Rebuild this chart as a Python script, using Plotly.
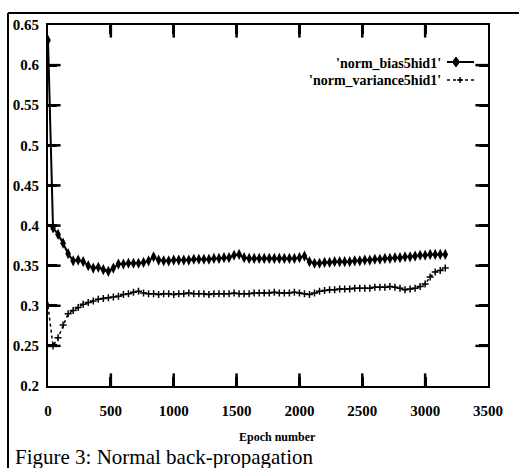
import plotly.graph_objects as go

epochs = [0, 40, 80, 120, 160, 200, 240, 280, 320, 360, 400, 440, 480, 520, 560, 600,
          640, 680, 720, 760, 800, 840, 880, 920, 960, 1000, 1040, 1080, 1120, 1160, 1200,
          1240, 1280, 1320, 1360, 1400, 1440, 1480, 1520, 1560, 1600, 1640, 1680, 1720,
          1760, 1800, 1840, 1880, 1920, 1960, 2000, 2040, 2080, 2120, 2160, 2200, 2240,
          2280, 2320, 2360, 2400, 2440, 2480, 2520, 2560, 2600, 2640, 2680, 2720, 2760,
          2800, 2840, 2880, 2920, 2960, 3000, 3040, 3080, 3120, 3160]

norm_bias = [0.631, 0.397, 0.389, 0.378, 0.365, 0.356, 0.357, 0.355, 0.350, 0.347,
             0.348, 0.345, 0.343, 0.347, 0.352, 0.352, 0.353, 0.353, 0.353, 0.354,
             0.356, 0.361, 0.357, 0.356, 0.356, 0.357, 0.357, 0.357, 0.357, 0.358,
             0.358, 0.358, 0.358, 0.359, 0.359, 0.360, 0.360, 0.363, 0.364, 0.360,
             0.359, 0.359, 0.359, 0.359, 0.359, 0.359, 0.359, 0.359, 0.359, 0.359,
             0.360, 0.362, 0.355, 0.353, 0.353, 0.354, 0.354, 0.355, 0.355, 0.355,
             0.355, 0.356, 0.356, 0.357, 0.357, 0.358, 0.358, 0.359, 0.359, 0.360,
             0.360, 0.361, 0.361, 0.362, 0.363, 0.363, 0.364, 0.364, 0.364, 0.364]

norm_variance = [0.300, 0.250, 0.260, 0.276, 0.290, 0.294, 0.298, 0.302, 0.304, 0.306,
                 0.308, 0.309, 0.310, 0.311, 0.312, 0.314, 0.315, 0.317, 0.318, 0.316,
                 0.315, 0.315, 0.314, 0.315, 0.315, 0.314, 0.315, 0.315, 0.316, 0.315,
                 0.315, 0.315, 0.314, 0.315, 0.315, 0.315, 0.315, 0.316, 0.315, 0.315,
                 0.315, 0.316, 0.316, 0.316, 0.316, 0.317, 0.316, 0.316, 0.316, 0.317,
                 0.316, 0.315, 0.314, 0.316, 0.318, 0.319, 0.320, 0.320, 0.321, 0.321,
                 0.321, 0.322, 0.322, 0.322, 0.322, 0.323, 0.323, 0.323, 0.324, 0.323,
                 0.322, 0.320, 0.321, 0.322, 0.324, 0.327, 0.336, 0.342, 0.344, 0.347]

x_ticks = [0, 500, 1000, 1500, 2000, 2500, 3000, 3500]
y_ticks = [0.2, 0.25, 0.3, 0.35, 0.4, 0.45, 0.5, 0.55, 0.6, 0.65]
series_names = ["'norm_bias5hid1'", "'norm_variance5hid1'"]

X_RANGE = [x_ticks[0], x_ticks[-1]]
Y_RANGE = [y_ticks[0], y_ticks[-1]]

W, H = 519, 468
L, R, T, B = 48, 31, 25, 82
PW, PH = W - L - R, H - T - B
TICK = 9  # tick length in px


def px(xp):
    return (xp - L) / PW


def py(yp):
    return (H - B - yp) / PH


SERIF = "Liberation Serif"

fig = go.Figure()
fig.add_trace(go.Scatter(
    x=epochs, y=norm_bias, mode="lines+markers", name=series_names[0],
    line=dict(color="black", width=2),
    marker=dict(symbol="diamond-tall", size=8, color="black"),
    showlegend=False))
fig.add_trace(go.Scatter(
    x=epochs, y=norm_variance, mode="lines+markers", name=series_names[1],
    line=dict(color="black", width=1.5, dash="dot"),
    marker=dict(symbol="cross-thin-open", size=5, color="black",
                line=dict(color="black", width=1.5)),
    showlegend=False))

# inside tick marks drawn as clipped line markers sitting on the axes (half is clipped)
inner_x = x_ticks[1:-1]
inner_y = y_ticks[1:-1]
tick_marker_ns = dict(symbol="line-ns-open", size=2 * TICK, color="black",
                      line=dict(color="black", width=2.5))
tick_marker_ew = dict(symbol="line-ew-open", size=2 * TICK, color="black",
                      line=dict(color="black", width=2.5))
for yy in Y_RANGE:
    fig.add_trace(go.Scatter(x=inner_x, y=[yy] * len(inner_x), mode="markers",
                             marker=tick_marker_ns, cliponaxis=True,
                             showlegend=False, hoverinfo="skip"))
for xx in X_RANGE:
    fig.add_trace(go.Scatter(x=[xx] * len(inner_y), y=inner_y, mode="markers",
                             marker=tick_marker_ew, cliponaxis=True,
                             showlegend=False, hoverinfo="skip"))

axis_common = dict(
    showgrid=False, zeroline=False, showline=True, linecolor="black", linewidth=2,
    mirror="allticks", ticks="inside", ticklen=TICK, tickwidth=2.5, tickcolor="#000000",
    tickmode="array",
    tickfont=dict(family=SERIF, size=15, color="black", weight="bold"),
)


def seg(x0, y0, x1, y1, width=2, dash="solid"):
    return dict(type="line", xref="paper", yref="paper", x0=px(x0), x1=px(x1),
                y0=py(y0), y1=py(y1), line=dict(color="black", width=width, dash=dash))


def diamond(cx, cy, hw=3.5, hh=5):
    pts = [(cx, cy - hh), (cx + hw, cy), (cx, cy + hh), (cx - hw, cy)]
    path = "M " + " L ".join(f"{px(a):.5f},{py(b):.5f}" for a, b in pts) + " Z"
    return dict(type="path", xref="paper", yref="paper", path=path,
                fillcolor="black", line=dict(color="black", width=1))


legend_shapes = [
    seg(447, 62, 474, 62, 2),
    diamond(456, 62),
    seg(447, 80, 474, 80, 1.5, "dot"),
    seg(457, 80, 463, 80, 1.5),
    seg(460, 77, 460, 83, 1.5),
]

frame_shapes = [
    seg(8, 13, 519, 13, 2),
    seg(8, 13, 8, 468, 2),
]

fig.update_layout(
    template="none",
    width=W, height=H,
    margin=dict(l=L, r=R, t=T, b=B),
    paper_bgcolor="white", plot_bgcolor="white",
    xaxis=dict(range=X_RANGE, tickvals=x_ticks, ticklabelstandoff=10, **axis_common),
    yaxis=dict(range=Y_RANGE, tickvals=y_ticks, ticklabelstandoff=4, **axis_common),
    annotations=[
        dict(text=series_names[0], xref="paper", yref="paper", x=px(443), y=py(63),
             xanchor="right", yanchor="middle", showarrow=False,
             font=dict(family=SERIF, size=14, color="black", weight="bold")),
        dict(text=series_names[1], xref="paper", yref="paper", x=px(443), y=py(81),
             xanchor="right", yanchor="middle", showarrow=False,
             font=dict(family=SERIF, size=14, color="black", weight="bold")),
        dict(text="<b>Epoch number</b>", xref="paper", yref="paper", x=px(277), y=py(437),
             xanchor="center", yanchor="middle", showarrow=False,
             font=dict(family=SERIF, size=12, color="black")),
        dict(text="Figure 3: Normal back-propagation", xref="paper", yref="paper",
             x=px(13), y=py(457), xanchor="left", yanchor="middle", showarrow=False,
             font=dict(family=SERIF, size=21, color="black")),
    ],
    shapes=frame_shapes + legend_shapes,
)

fig.write_html("out.html")
